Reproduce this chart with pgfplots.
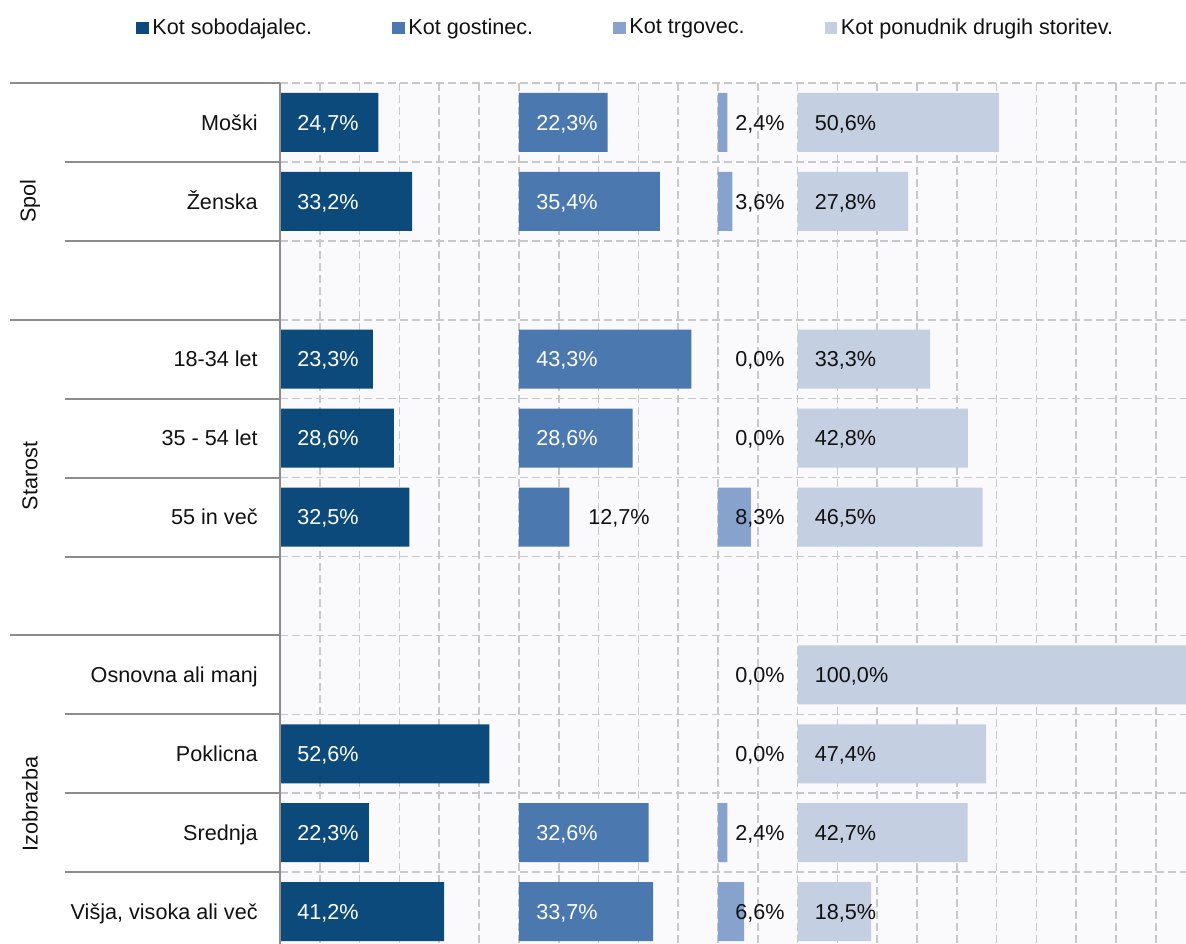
\documentclass[border=0pt]{standalone}
\usepackage{fontspec}
\setmainfont{Liberation Sans}
\usepackage{pgfplots}
\usepackage{pgfplotstable}
\pgfplotsset{compat=1.18}

\definecolor{cA}{HTML}{0B4A7B}
\definecolor{cB}{HTML}{4A78AF}
\definecolor{cC}{HTML}{86A2CD}
\definecolor{cD}{HTML}{C4CFE2}
\definecolor{gridc}{HTML}{C8C8C8}
\definecolor{axc}{HTML}{8C8C8C}
\definecolor{bgc}{HTML}{FAFAFC}
\definecolor{txt}{HTML}{111111}

% row: 0 Moški, 1 Ženska, 3-5 starost, 7-10 izobrazba (2 and 6 empty)
\pgfplotstableread{
row val
0 24.7
1 33.2
3 23.3
4 28.6
5 32.5
8 52.6
9 22.3
10 41.2
}\sobo
\pgfplotstableread{
row val
0 22.3
1 35.4
3 43.3
4 28.6
5 12.7
9 32.6
10 33.7
}\gost
\pgfplotstableread{
row val
0 2.4
1 3.6
3 0.0
4 0.0
5 8.3
7 0.0
8 0.0
9 2.4
10 6.6
}\trg
\pgfplotstableread{
row val
0 50.6
1 27.8
3 33.3
4 42.8
5 46.5
7 100.0
8 47.4
9 42.7
10 18.5
}\pon

\pgfplotsset{
  panel/.style={x=1.99pt, y=39.45pt, y dir=reverse, ymin=-0.5, ymax=10.41,
    xmin=0, hide axis, anchor=north west},
  bars/.style={xbar, bar width=29.5pt, bar shift=0pt, draw=none, fill=#1},
  lbl/.style={draw=none, mark=none, point meta=explicit,
    nodes near coords={\pgfmathprintnumber[fixed,fixed zerofill,precision=1,use comma,assume math mode=true]{\pgfplotspointmeta}\%},
    nodes near coords style={anchor=base west, inner sep=0pt, xshift=8.5pt, yshift=-3.87pt, text=#1}},
}

\begin{document}
\fontsize{10.8pt}{13pt}\selectfont
\begin{tikzpicture}
\useasboundingbox (-140pt,-430.4pt) rectangle (452.9pt,41.5pt);

% background: grid, row labels, legend
\begin{axis}[
  at={(0pt,0pt)}, anchor=north west,
  x=1.99pt, y=39.45pt, y dir=reverse,
  xmin=0, xmax=227.6, ymin=-0.5, ymax=10.41,
  axis line style={draw=none},
  axis background/.style={fill=bgc},
  xtick={0,10,...,220}, xticklabels={}, xmajorgrids,
  ytick={0,1,3,4,5,7,8,9,10},
  yticklabels={Moški,Ženska,18-34 let,35 - 54 let,55 in več,Osnovna ali manj,Poklicna,Srednja,{Višja, visoka ali več}},
  minor ytick={-0.5,0.5,...,9.5}, yminorgrids,
  major tick length=0pt, minor tick length=0pt,
  major grid style={draw=gridc, line width=0.8pt, dash pattern=on 4pt off 2pt},
  minor grid style={draw=gridc, line width=0.8pt, dash pattern=on 4pt off 2pt},
  yticklabel style={anchor=base east, inner sep=0pt, xshift=-11pt, yshift=-3.87pt, text=txt},
  clip=false,
  legend columns=4,
  legend cell align=left,
  legend style={at={(0.3824,1.0639)}, anchor=center, draw=none, fill=none,
    nodes={inner xsep=1.9pt, inner ysep=0pt, text=txt},
    /tikz/every even column/.append style={column sep=38pt}},
  legend image code/.code={\path[#1, draw=none] (0pt,-3.1pt) rectangle (6.3pt,3.2pt);},
]
\addlegendimage{fill=cA}
\addlegendimage{fill=cB}
\addlegendimage{fill=cC}
\addlegendimage{fill=cD}
\legend{Kot sobodajalec.,Kot gostinec.,Kot trgovec.,Kot ponudnik drugih storitev.}
\end{axis}

% Kot sobodajalec
\begin{axis}[panel, at={(0pt,0pt)}, xmax=60, clip=false]
\addplot[bars=cA] table[x=val, y=row]{\sobo};
\addplot[lbl=white] table[x expr=0, y=row, meta=val]{\sobo};
\end{axis}

% Kot gostinec
\begin{axis}[panel, at={(119.4pt,0pt)}, xmax=50, clip=false]
\addplot[bars=cB] table[x=val, y=row]{\gost};
\addplot[lbl=white, skip coords between index={4}{5}] table[x expr=0, y=row, meta=val]{\gost};
\addplot[lbl=txt, skip coords between index={0}{4}, skip coords between index={5}{7}, nodes near coords style={xshift=26pt}] table[x expr=0, y=row, meta=val]{\gost};
\end{axis}

% Kot trgovec
\begin{axis}[panel, at={(218.9pt,0pt)}, xmax=20, clip=false]
\addplot[bars=cC] table[x=val, y=row]{\trg};
\addplot[lbl=txt] table[x expr=0, y=row, meta=val]{\trg};
\end{axis}

% Kot ponudnik drugih storitev
\begin{axis}[panel, at={(258.7pt,0pt)}, xmax=97.6]
\addplot[bars=cD] table[x=val, y=row]{\pon};
\addplot[lbl=txt] table[x expr=0, y=row, meta=val]{\pon};
\end{axis}

% category axis line and separators
\draw[axc, line width=1pt] (0pt,0pt) -- (0pt,-430.4pt);
\foreach \b in {0.5,1.5,3.5,4.5,5.5,7.5,8.5,9.5}
  \draw[axc, line width=1pt] (-107.5pt,{-(\b+0.5)*39.45pt}) -- (0pt,{-(\b+0.5)*39.45pt});
\foreach \b in {-0.5,2.5,6.5}
  \draw[axc, line width=1pt] (-135pt,{-(\b+0.5)*39.45pt}) -- (0pt,{-(\b+0.5)*39.45pt});

\node[rotate=90, text=txt] at (-125pt,-59pt) {Spol};
\node[rotate=90, text=txt] at (-125pt,-196.5pt) {Starost};
\node[rotate=90, text=txt] at (-125pt,-360.5pt) {Izobrazba};
\end{tikzpicture}
\end{document}
